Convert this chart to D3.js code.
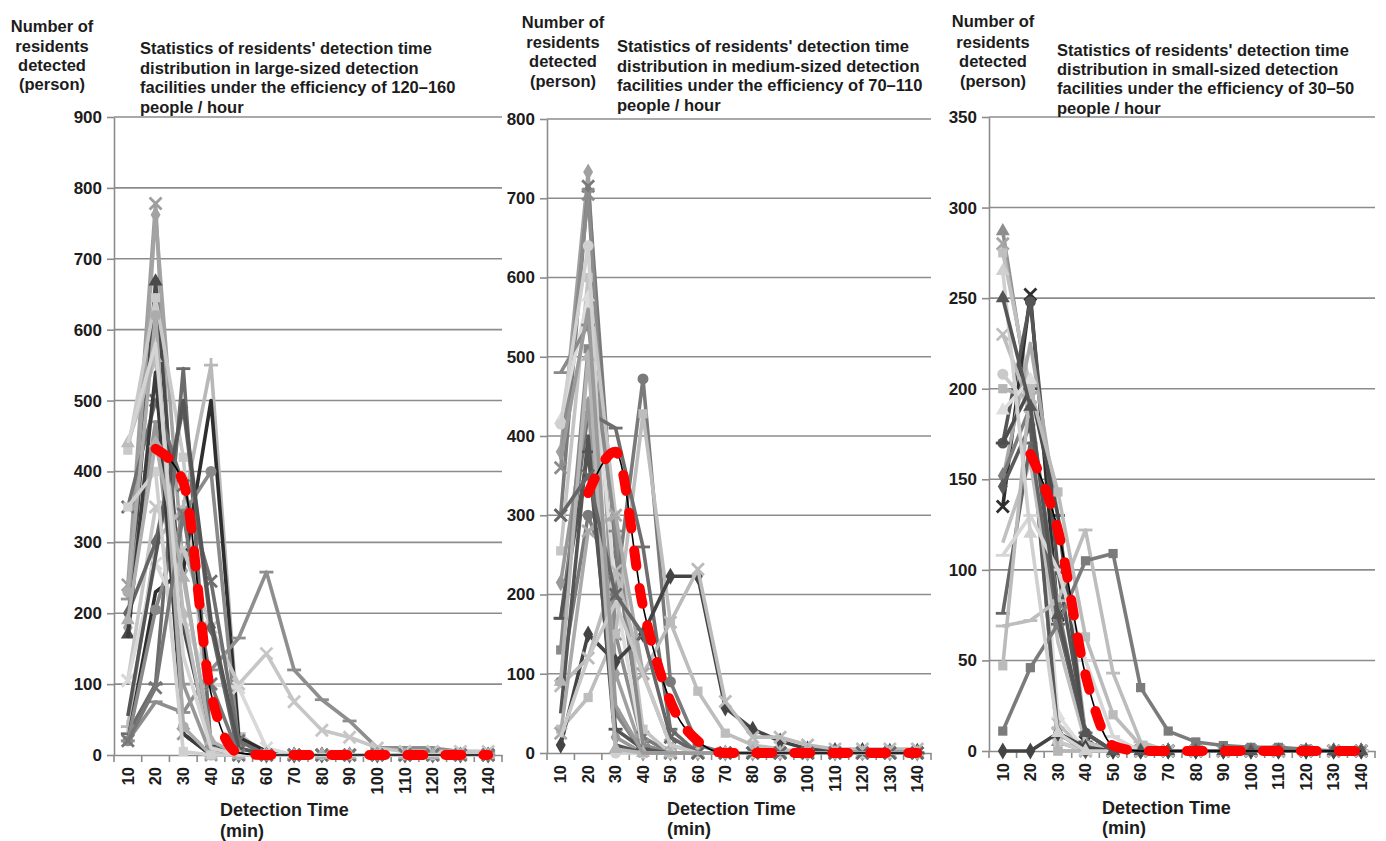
<!DOCTYPE html>
<html>
<head>
<meta charset="utf-8">
<script src="https://cdn.jsdelivr.net/npm/d3@7"></script>
<style>
  body { margin: 0; background: #fff; }
  svg text { font-family: "Liberation Sans", Arial, sans-serif; font-weight: bold; fill: #1c1c1c; }
</style>
</head>
<body>
<svg id="chart" width="1386" height="841"></svg>
<script>
// detection time categories (min)
const times = [10, 20, 30, 40, 50, 60, 70, 80, 90, 100, 110, 120, 130, 140]

const largeTicks = [0, 100, 200, 300, 400, 500, 600, 700, 800, 900]
const mediumTicks = [0, 100, 200, 300, 400, 500, 600, 700, 800]
const smallTicks = [0, 50, 100, 150, 200, 250, 300, 350]

const yTitleLines = ['Number of', 'residents', 'detected', '(person)']
const xTitleLines = ['Detection Time', '(min)']
const largeTitle = ["Statistics of residents' detection time", 'distribution in large-sized detection', 'facilities under the efficiency of 120–160', 'people / hour']
const mediumTitle = ["Statistics of residents' detection time", 'distribution in medium-sized detection', 'facilities under the efficiency of 70–110', 'people / hour']
const smallTitle = ["Statistics of residents' detection time", 'distribution in small-sized detection', 'facilities under the efficiency of 30–50', 'people / hour']

// large-sized facilities, one row per facility
const largeSeries = [
  [240, 778, 30, 0, 0, 0, 0, 0, 0, 0, 0, 0, 0, 0],
  [180, 762, 260, 10, 0, 0, 0, 0, 0, 0, 0, 0, 0, 0],
  [170, 668, 180, 15, 0, 0, 0, 0, 0, 0, 0, 0, 0, 0],
  [430, 645, 420, 5, 0, 0, 0, 0, 0, 0, 0, 0, 0, 0],
  [30, 100, 545, 10, 0, 0, 0, 0, 0, 0, 0, 0, 0, 0],
  [40, 300, 350, 550, 30, 0, 0, 0, 0, 0, 0, 0, 0, 0],
  [20, 230, 260, 500, 25, 5, 0, 0, 0, 0, 0, 0, 0, 0],
  [20, 205, 340, 400, 10, 0, 0, 0, 0, 0, 0, 0, 0, 0],
  [20, 75, 60, 120, 165, 258, 120, 78, 48, 10, 10, 10, 5, 5],
  [105, 350, 290, 180, 100, 143, 75, 35, 25, 10, 5, 5, 5, 5],
  [105, 270, 190, 100, 95, 10, 0, 0, 0, 0, 0, 0, 0, 0],
  [350, 500, 380, 245, 20, 0, 0, 0, 0, 0, 0, 0, 0, 0],
  [440, 560, 200, 0, 0, 0, 0, 0, 0, 0, 0, 0, 0, 0],
  [220, 470, 100, 0, 0, 0, 0, 0, 0, 0, 0, 0, 0, 0],
  [200, 300, 490, 180, 0, 0, 0, 0, 0, 0, 0, 0, 0, 0],
  [55, 280, 500, 190, 10, 0, 0, 0, 0, 0, 0, 0, 0, 0],
  [165, 540, 30, 0, 0, 0, 0, 0, 0, 0, 0, 0, 0, 0],
  [230, 620, 40, 0, 0, 0, 0, 0, 0, 0, 0, 0, 0, 0],
  [350, 400, 5, 0, 0, 0, 0, 0, 0, 0, 0, 0, 0, 0],
  [20, 95, 340, 100, 0, 0, 0, 0, 0, 0, 0, 0, 0, 0],
  [190, 440, 250, 20, 0, 0, 0, 0, 0, 0, 0, 0, 0, 0],
  [440, 580, 140, 10, 0, 0, 0, 0, 0, 0, 0, 0, 0, 0]
]
const largeAvg = [null, 432, 385, 87, 3, 0, 0, 0, 0, 0, 0, 0, 0, 0]

// medium-sized facilities
const mediumSeries = [
  [380, 733, 100, 0, 0, 0, 0, 0, 0, 0, 0, 0, 0, 0],
  [300, 715, 250, 20, 0, 0, 0, 0, 0, 0, 0, 0, 0, 0],
  [360, 705, 150, 10, 0, 0, 0, 0, 0, 0, 0, 0, 0, 0],
  [255, 600, 300, 30, 0, 0, 0, 0, 0, 0, 0, 0, 0, 0],
  [420, 575, 200, 5, 0, 0, 0, 0, 0, 0, 0, 0, 0, 0],
  [480, 540, 280, 10, 0, 0, 0, 0, 0, 0, 0, 0, 0, 0],
  [90, 300, 200, 472, 90, 10, 0, 0, 0, 0, 0, 0, 0, 0],
  [30, 70, 150, 428, 165, 78, 25, 10, 5, 0, 0, 0, 0, 0],
  [170, 430, 410, 260, 30, 0, 0, 0, 0, 0, 0, 0, 0, 0],
  [10, 150, 115, 150, 223, 223, 57, 30, 15, 5, 3, 3, 2, 2],
  [85, 120, 230, 100, 165, 232, 65, 20, 20, 10, 5, 5, 5, 5],
  [215, 440, 20, 0, 0, 0, 0, 0, 0, 0, 0, 0, 0, 0],
  [130, 510, 50, 0, 0, 0, 0, 0, 0, 0, 0, 0, 0, 0],
  [50, 400, 10, 0, 0, 0, 0, 0, 0, 0, 0, 0, 0, 0],
  [25, 280, 300, 100, 10, 0, 0, 0, 0, 0, 0, 0, 0, 0],
  [415, 640, 0, 0, 0, 0, 0, 0, 0, 0, 0, 0, 0, 0],
  [170, 380, 30, 5, 0, 0, 0, 0, 0, 0, 0, 0, 0, 0],
  [90, 500, 5, 0, 0, 0, 0, 0, 0, 0, 0, 0, 0, 0],
  [300, 350, 200, 150, 20, 0, 0, 0, 0, 0, 0, 0, 0, 0],
  [20, 120, 190, 100, 10, 0, 0, 0, 0, 0, 0, 0, 0, 0],
  [370, 560, 60, 0, 0, 0, 0, 0, 0, 0, 0, 0, 0, 0]
]
const mediumAvg = [null, 328, 380, 185, 65, 15, 0, 0, 0, 0, 0, 0, 0, 0]

// small-sized facilities
const smallSeries = [
  [287, 190, 5, 0, 0, 0, 0, 0, 0, 0, 0, 0, 0, 0],
  [280, 195, 10, 0, 0, 0, 0, 0, 0, 0, 0, 0, 0, 0],
  [275, 200, 0, 0, 0, 0, 0, 0, 0, 0, 0, 0, 0, 0],
  [135, 252, 75, 5, 0, 0, 0, 0, 0, 0, 0, 0, 0, 0],
  [170, 248, 100, 10, 0, 0, 0, 0, 0, 0, 0, 0, 0, 0],
  [230, 190, 15, 0, 0, 0, 0, 0, 0, 0, 0, 0, 0, 0],
  [150, 225, 130, 10, 0, 0, 0, 0, 0, 0, 0, 0, 0, 0],
  [208, 190, 5, 0, 0, 0, 0, 0, 0, 0, 0, 0, 0, 0],
  [200, 195, 0, 0, 0, 0, 0, 0, 0, 0, 0, 0, 0, 0],
  [188, 205, 20, 0, 0, 0, 0, 0, 0, 0, 0, 0, 0, 0],
  [170, 200, 130, 5, 0, 0, 0, 0, 0, 0, 0, 0, 0, 0],
  [152, 190, 80, 5, 0, 0, 0, 0, 0, 0, 0, 0, 0, 0],
  [146, 180, 10, 0, 0, 0, 0, 0, 0, 0, 0, 0, 0, 0],
  [115, 160, 60, 5, 0, 0, 0, 0, 0, 0, 0, 0, 0, 0],
  [76, 170, 70, 10, 0, 0, 0, 0, 0, 0, 0, 0, 0, 0],
  [69, 72, 83, 122, 43, 5, 0, 0, 0, 0, 0, 0, 0, 0],
  [47, 200, 143, 63, 20, 3, 0, 0, 0, 0, 0, 0, 0, 0],
  [11, 46, 70, 105, 109, 35, 11, 5, 3, 2, 2, 1, 0, 0],
  [0, 0, 10, 2, 0, 0, 0, 0, 0, 0, 0, 0, 0, 0],
  [108, 130, 100, 50, 8, 0, 0, 0, 0, 0, 0, 0, 0, 0],
  [265, 120, 10, 0, 0, 0, 0, 0, 0, 0, 0, 0, 0, 0],
  [250, 190, 75, 10, 0, 0, 0, 0, 0, 0, 0, 0, 0, 0]
]
const smallAvg = [null, 164, 122, 42, 3, 0, 0, 0, 0, 0, 0, 0, 0, 0]

// line colour + marker for each series (kept apart from the values)
const largeStyles = [
  ['#9e9e9e', 'times'], ['#a3a3a3', 'diamond'], ['#4a4a4a', 'triangle'], ['#c9c9c9', 'square'],
  ['#6b6b6b', 'bar'], ['#b8b8b8', 'plus'], ['#2e2e2e', 'none'], ['#8a8a8a', 'circle'],
  ['#8e8e8e', 'bar'], ['#c6c6c6', 'times'], ['#d9d9d9', 'times'], ['#6f6f6f', 'times'],
  ['#bcbcbc', 'triangle'], ['#979797', 'bar'], ['#666666', 'diamond'], ['#555555', 'none'],
  ['#3c3c3c', 'none'], ['#acacac', 'circle'], ['#cfcfcf', 'square'], ['#777777', 'times'],
  ['#b0b0b0', 'triangle'], ['#d4d4d4', 'none']
]
const mediumStyles = [
  ['#a0a0a0', 'diamond'], ['#7a7a7a', 'times'], ['#8c8c8c', 'times'], ['#c4c4c4', 'square'],
  ['#dcdcdc', 'triangle'], ['#8a8a8a', 'bar'], ['#7a7a7a', 'circle'], ['#bdbdbd', 'square'],
  ['#6e6e6e', 'bar'], ['#444444', 'diamond'], ['#bbbbbb', 'times'], ['#999999', 'diamond'],
  ['#888888', 'square'], ['#555555', 'none'], ['#aaaaaa', 'times'], ['#d0d0d0', 'circle'],
  ['#555555', 'bar'], ['#b5b5b5', 'triangle'], ['#666666', 'times'], ['#c8c8c8', 'none'],
  ['#9a9a9a', 'none']
]
const smallStyles = [
  ['#8e8e8e', 'triangle'], ['#a5a5a5', 'times'], ['#c0c0c0', 'square'], ['#2f2f2f', 'times'],
  ['#555555', 'circle'], ['#bdbdbd', 'times'], ['#aaaaaa', 'none'], ['#c9c9c9', 'circle'],
  ['#b5b5b5', 'square'], ['#dedede', 'triangle'], ['#4d4d4d', 'bar'], ['#7d7d7d', 'diamond'],
  ['#5a5a5a', 'diamond'], ['#c0c0c0', 'none'], ['#666666', 'bar'], ['#bdbdbd', 'bar'],
  ['#bbbbbb', 'square'], ['#7b7b7b', 'square'], ['#444444', 'diamond'], ['#d6d6d6', 'bar'],
  ['#d0d0d0', 'triangle'], ['#555555', 'triangle']
]

const panels = [
  { series: largeSeries, styles: largeStyles, avg: largeAvg, ticks: largeTicks, title: largeTitle,
    left: 114, right: 502, top: 117, bottom: 755,
    yTitleX: 52, yTitleY: [32, 52, 71, 90], titleX: 140, titleY: [54, 73.5, 93, 113], xTitleX: 220, xTitleY: [816, 837] },
  { series: mediumSeries, styles: mediumStyles, avg: mediumAvg, ticks: mediumTicks, title: mediumTitle,
    left: 547, right: 931, top: 119, bottom: 753,
    yTitleX: 563, yTitleY: [28, 48, 67, 87], titleX: 617, titleY: [52, 72, 91, 111], xTitleX: 667, xTitleY: [815, 835] },
  { series: smallSeries, styles: smallStyles, avg: smallAvg, ticks: smallTicks, title: smallTitle,
    left: 989, right: 1375, top: 117, bottom: 751,
    yTitleX: 993, yTitleY: [27, 48, 67, 87], titleX: 1057, titleY: [56, 75, 94, 114], xTitleX: 1102, xTitleY: [814, 834] }
]

const svg = d3.select('#chart')
const gridColor = '#8c8c8c'

// markers
const fillSymbols = { circle: d3.symbolCircle, square: d3.symbolSquare, diamond: d3.symbolDiamond, triangle: d3.symbolTriangle }
function markerPath(m) {
  if (m === 'bar') return 'M-7,0H7'
  if (m === 'times') return 'M-6,-6L6,6M-6,6L6,-6'
  if (m === 'plus') return 'M-7,0H7M0,-7V7'
  return d3.symbol(fillSymbols[m], m === 'circle' ? 95 : 85)()
}

function drawPanel(p) {
  const yMax = p.ticks[p.ticks.length - 1]
  const x = d3.scaleBand().domain(times).range([p.left, p.right])
  const y = d3.scaleLinear().domain([0, yMax]).range([p.bottom, p.top])
  const cx = (i) => x(times[i]) + x.bandwidth() / 2
  const g = svg.append('g')

  // gridlines
  g.append('g').selectAll('line')
    .data(p.ticks.filter(t => t > 0))
    .enter().append('line')
    .attr('x1', p.left).attr('x2', p.right)
    .attr('y1', d => y(d)).attr('y2', d => y(d))
    .attr('stroke', gridColor).attr('stroke-width', 1.6)

  // y axis
  const yAxis = g.append('g')
    .attr('transform', 'translate(' + p.left + ',0)')
    .call(d3.axisLeft(y).tickValues(p.ticks).tickSize(7).tickSizeOuter(0).tickPadding(5))
  yAxis.selectAll('path, line').attr('stroke', gridColor).attr('stroke-width', 1.6)
  yAxis.selectAll('text').style('font-size', '17px').attr('fill', '#1c1c1c')

  // x axis: labels at category centres, ticks between categories
  const xAxis = g.append('g')
    .attr('transform', 'translate(0,' + p.bottom + ')')
    .call(d3.axisBottom(x).tickSize(0).tickSizeOuter(0))
  xAxis.select('.domain').attr('stroke', gridColor).attr('stroke-width', 1.6)
  xAxis.selectAll('text')
    .attr('transform', 'rotate(-90)')
    .attr('x', -12).attr('y', 0).attr('dy', '0.35em')
    .style('text-anchor', 'end')
    .style('font-size', '16.5px')
    .attr('fill', '#1c1c1c')
  xAxis.append('g').selectAll('line')
    .data(times.map(t => x(t)).concat([p.right]))
    .enter().append('line')
    .attr('x1', d => d).attr('x2', d => d)
    .attr('y1', 0).attr('y2', 7)
    .attr('stroke', gridColor).attr('stroke-width', 1.6)

  // facility series
  const line = d3.line()
    .defined(d => d != null)
    .x((d, i) => cx(i))
    .y(d => y(d))

  p.series.forEach((s, k) => {
    const color = p.styles[k][0]
    const marker = p.styles[k][1]
    const sg = g.append('g')
    sg.append('path')
      .attr('d', line(s))
      .attr('fill', 'none')
      .attr('stroke', color)
      .attr('stroke-width', 3.6)
      .attr('stroke-linejoin', 'round')
    if (marker === 'none') return
    const stroked = marker === 'bar' || marker === 'times' || marker === 'plus'
    sg.selectAll('path.mk')
      .data(s)
      .enter().append('path')
      .attr('class', 'mk')
      .attr('transform', (d, i) => 'translate(' + cx(i) + ',' + y(d) + ')')
      .attr('d', markerPath(marker))
      .attr('fill', stroked ? 'none' : color)
      .attr('stroke', stroked ? color : 'none')
      .attr('stroke-width', 2.8)
  })

  // average: thin black line with thick red dashes over it
  const avgLine = d3.line()
    .defined(d => d != null)
    .x((d, i) => cx(i))
    .y(d => y(d))
    .curve(d3.curveMonotoneX)
  g.append('path')
    .attr('d', avgLine(p.avg))
    .attr('fill', 'none')
    .attr('stroke', '#000')
    .attr('stroke-width', 1.6)
  g.append('path')
    .attr('d', avgLine(p.avg))
    .attr('fill', 'none')
    .attr('stroke', '#ff0000')
    .attr('stroke-width', 10)
    .attr('stroke-linecap', 'round')
    .attr('stroke-dasharray', '16 22')

  // texts
  const yt = g.append('text').attr('text-anchor', 'middle').style('font-size', '16.5px')
  yTitleLines.forEach((t, i) => {
    yt.append('tspan').attr('x', p.yTitleX).attr('y', p.yTitleY[i]).text(t)
  })
  const tt = g.append('text').style('font-size', '16.5px')
  p.title.forEach((t, i) => {
    tt.append('tspan').attr('x', p.titleX).attr('y', p.titleY[i]).text(t)
  })
  const xt = g.append('text').style('font-size', '18px')
  xTitleLines.forEach((t, i) => {
    xt.append('tspan').attr('x', p.xTitleX).attr('y', p.xTitleY[i]).text(t)
  })
}

panels.forEach(drawPanel)
</script>
</body>
</html>
